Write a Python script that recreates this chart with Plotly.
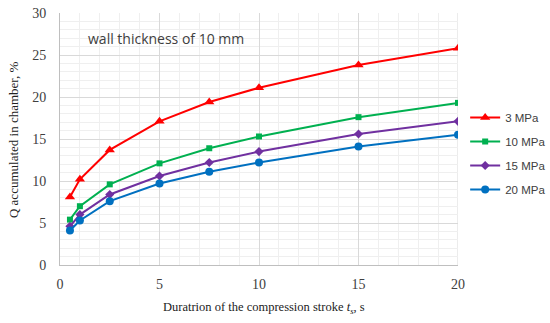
import plotly.graph_objects as go

x_vals = [0.5, 1, 2.5, 5, 7.5, 10, 15, 20]
series_names = ["3 MPa", "10 MPa", "15 MPa", "20 MPa"]
q_3mpa = [8.1, 10.2, 13.7, 17.1, 19.4, 21.1, 23.8, 25.8]
q_10mpa = [5.4, 7.0, 9.6, 12.1, 13.9, 15.3, 17.6, 19.3]
q_15mpa = [4.6, 6.0, 8.4, 10.6, 12.2, 13.5, 15.6, 17.1]
q_20mpa = [4.1, 5.3, 7.6, 9.7, 11.1, 12.2, 14.1, 15.5]

colors = ["#FF0000", "#00B050", "#7030A0", "#0070C0"]
symbols = ["triangle-up", "square", "diamond", "circle"]
sizes = [9, 6, 7, 8]

fig = go.Figure()
for name, ys, c, s, sz in zip(series_names, [q_3mpa, q_10mpa, q_15mpa, q_20mpa], colors, symbols, sizes):
    fig.add_trace(go.Scatter(x=x_vals, y=ys, name=name, mode="lines+markers",
                             legendgroup=name,
                             line=dict(color=c, width=2),
                             marker=dict(symbol=s, size=sz, color=c)))

serif = "Liberation Serif, Times New Roman"
fig.update_layout(
    width=550, height=323,
    margin=dict(l=60, r=92, t=13, b=58, autoexpand=False),
    plot_bgcolor="white", paper_bgcolor="white",
    showlegend=True,
    legend=dict(x=1.018, y=0.643, xanchor="left", yanchor="top",
                font=dict(family="Liberation Sans, Arial", size=11.5, color="#404040"),
                tracegroupgap=5, itemwidth=30, bgcolor="rgba(0,0,0,0)"),
    xaxis=dict(range=[0, 20], tickvals=[0, 5, 10, 15, 20], showgrid=True,
               gridcolor="#d9d9d9", gridwidth=1, automargin=False,
               minor=dict(dtick=1, showgrid=True, gridcolor="#efefef"),
               showline=True, linecolor="#bfbfbf", mirror=False, zeroline=False,
               ticklen=0, ticklabelstandoff=6,
               tickfont=dict(family=serif, size=14, color="#404040")),
    yaxis=dict(range=[0, 30], tickvals=[0, 5, 10, 15, 20, 25, 30], showgrid=True,
               gridcolor="#d9d9d9", gridwidth=1, automargin=False,
               minor=dict(dtick=1, showgrid=True, gridcolor="#efefef"),
               showline=True, linecolor="#bfbfbf", zeroline=False,
               ticklen=0, ticklabelstandoff=10,
               tickfont=dict(family=serif, size=14, color="#404040")),
    annotations=[
        dict(text="wall thickness of 10 mm", x=0.065, y=0.897, xref="paper", yref="paper",
             xanchor="left", yanchor="middle", showarrow=False,
             font=dict(family="Open Sans, Arial", size=14, color="#404040")),
        dict(text="Duratrion of the compression stroke <i>t<sub>s</sub></i>, s",
             x=0.513, y=-0.171, xref="paper", yref="paper", xanchor="center", yanchor="middle",
             showarrow=False, font=dict(family=serif, size=12.5, color="#222")),
        dict(text="Q accumulated in chamber, %", textangle=-90,
             x=-0.118, y=0.496, xref="paper", yref="paper", xanchor="center", yanchor="middle",
             showarrow=False, font=dict(family=serif, size=13, color="#222")),
    ],
)
fig.add_shape(type="line", xref="x", yref="paper", x0=20, x1=20, y0=0, y1=1,
              line=dict(color="#d9d9d9", width=1), layer="below")

fig.write_html("out.html", config={"displayModeBar": False},
               post_script="document.body.style.margin='0';document.body.style.padding='0';")
